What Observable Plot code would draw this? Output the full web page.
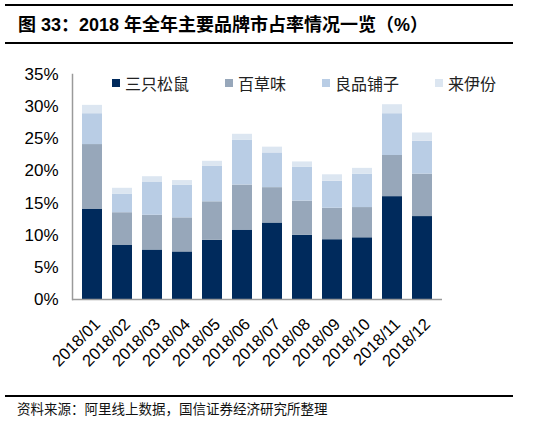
<!DOCTYPE html>
<html>
<head>
<meta charset="utf-8">
<script src="https://cdn.jsdelivr.net/npm/d3@7"></script>
<script src="https://cdn.jsdelivr.net/npm/@observablehq/plot@0.6"></script>
<style>
  html, body { margin: 0; padding: 0; background: #fff; }
  body { width: 546px; height: 425px; position: relative; overflow: hidden;
         font-family: "Liberation Sans", "Noto Sans CJK SC", sans-serif; }
  .rule { position: absolute; left: 5px; width: 508px; height: 2px; background: #000; }
  #title { position: absolute; left: 18px; top: 12px; font-size: 18px; font-weight: bold;
           line-height: 26px; color: #000; white-space: nowrap;
           font-family: "Liberation Sans", "Noto Sans CJK SC", sans-serif; }
  #chart { position: absolute; left: 0; top: 50px; }
  #legend { position: absolute; left: 112px; top: 73px; display: flex; gap: 36px;
            font-family: "Noto Sans CJK SC", sans-serif; font-size: 16px; line-height: 20px; color: #222; }
  #legend .item { display: flex; align-items: center; gap: 5px; }
  #legend .sw { width: 8px; height: 8px; display: inline-block; }
  #footer { position: absolute; left: 17px; top: 398px; font-size: 13.5px; line-height: 20px;
            font-family: "Noto Sans CJK SC", sans-serif; color: #111; white-space: nowrap; }
</style>
</head>
<body>
<div class="rule" style="top:4px"></div>
<div id="title">图 33：2018 年全年主要品牌市占率情况一览（%）</div>
<div class="rule" style="top:42px"></div>
<div id="chart"></div>
<div id="legend"></div>
<div class="rule" style="top:395px"></div>
<div id="footer">资料来源：阿里线上数据，国信证券经济研究所整理</div>
<script>
const months = ["2018/01","2018/02","2018/03","2018/04","2018/05","2018/06","2018/07","2018/08","2018/09","2018/10","2018/11","2018/12"];
const brands = ["三只松鼠","百草味","良品铺子","来伊份"];
const colors = ["#002a5c","#97a7ba","#b9cde5","#dce6f1"];
const sanzhisongshu = [14.0, 8.4, 7.7, 7.4, 9.2, 10.8, 11.9, 10.0, 9.3, 9.6, 16.0, 12.9];
const baicaowei     = [10.1, 5.1, 5.4, 5.3, 6.0, 7.0, 5.5, 5.3, 4.9, 4.7, 6.4, 6.6];
const liangpinpuzi  = [4.8, 2.9, 5.1, 5.1, 5.5, 7.0, 5.4, 5.3, 4.2, 5.2, 6.5, 5.1];
const laiyifen      = [1.3, 0.9, 0.9, 0.7, 0.8, 0.9, 0.9, 0.8, 1.0, 0.9, 1.4, 1.3];
const yTicks = [0, 5, 10, 15, 20, 25, 30, 35];

const series = [sanzhisongshu, baicaowei, liangpinpuzi, laiyifen];
const data = [];
months.forEach((m, i) => brands.forEach((b, j) => data.push({month: m, brand: b, value: series[j][i]})));

const plot = Plot.plot({
  width: 546,
  height: 345,
  marginLeft: 72,
  marginRight: 104,
  marginTop: 24,
  marginBottom: 96,
  style: {fontFamily: "Liberation Sans, Arial, sans-serif", color: "#000", background: "transparent"},
  x: {domain: months, paddingInner: 0.35, paddingOuter: 0.15, label: null},
  y: {domain: [0, 35], label: null},
  color: {domain: brands, range: colors},
  marks: [
    Plot.barY(data, {x: "month", y: "value", fill: "brand", order: brands}),
    Plot.axisY({ticks: yTicks, tickFormat: d => d + "%", tickSize: 0, tickPadding: 14, fontSize: 17, label: null}),
    Plot.axisX({tickSize: 0, tickPadding: 22, dx: 5, tickRotate: -45, fontSize: 16.5, label: null}),
    Plot.frame({anchor: "left", stroke: "#9a9a9a", strokeWidth: 1.5}),
    Plot.ruleY([0], {stroke: "#9a9a9a", strokeWidth: 1.5})
  ]
});
document.getElementById("chart").appendChild(plot);

const legend = document.getElementById("legend");
brands.forEach((b, i) => {
  const it = document.createElement("div");
  it.className = "item";
  it.innerHTML = `<span class="sw" style="background:${colors[i]}"></span><span>${b}</span>`;
  legend.appendChild(it);
});
</script>
</body>
</html>
